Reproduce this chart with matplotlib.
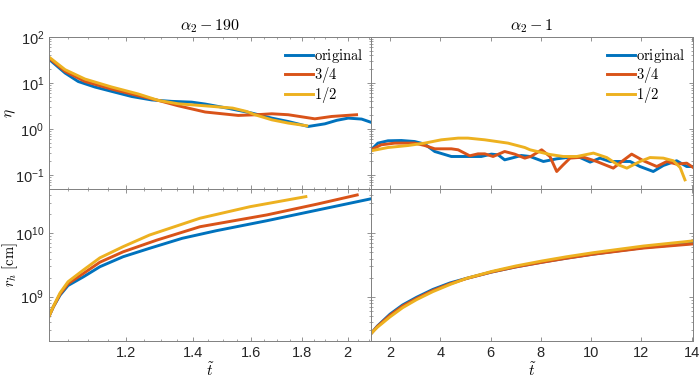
import numpy as np
import matplotlib.pyplot as plt
from matplotlib.ticker import FixedLocator, FixedFormatter, NullFormatter

plt.rcParams['font.family'] = ['Liberation Sans', 'DejaVu Sans']
plt.rcParams['mathtext.fontset'] = 'cm'

# line colours (MATLAB default order)
c_orig = '#0072BD'
c_34 = '#D95319'
c_12 = '#EDB120'

labels = [r'$\mathrm{original}$', r'$3/4$', r'$1/2$']

# ---- alpha_2 - 190 : eta ----
t_eta190_orig = [1.005, 1.043, 1.075, 1.117, 1.161, 1.216, 1.273, 1.333, 1.396, 1.44, 1.514,
                 1.603, 1.679, 1.744, 1.826, 1.897, 1.95, 2.002, 2.065, 2.113]
eta190_orig = [33, 16.5, 10.8, 8.2, 6.6, 5.1, 4.3, 4.0, 3.85, 3.5, 2.86,
               2.23, 1.73, 1.46, 1.14, 1.30, 1.55, 1.73, 1.65, 1.39]
t_eta190_34 = [1.005, 1.043, 1.092, 1.161, 1.235, 1.293, 1.353, 1.44, 1.554, 1.62,
               1.679, 1.744, 1.854, 1.927, 2.041]
eta190_34 = [35, 17.9, 10.8, 7.4, 5.3, 4.19, 3.21, 2.35, 1.98, 2.05,
             2.15, 2.05, 1.67, 1.88, 2.05]
t_eta190_12 = [1.005, 1.043, 1.092, 1.161, 1.235, 1.293, 1.353, 1.44, 1.534, 1.585,
               1.615, 1.679, 1.744, 1.820]
eta190_12 = [36.7, 19.5, 12.2, 8.2, 5.77, 4.19, 3.55, 3.2, 2.86, 2.41,
             2.05, 1.59, 1.35, 1.18]

# ---- alpha_2 - 190 : r_h ----
t_r190_orig = [1.005, 1.015, 1.031, 1.05, 1.088, 1.130, 1.192, 1.267, 1.366, 1.478, 1.66, 1.866, 2.113]
r190_orig = [4.9e8, 6.9e8, 1.06e9, 1.5e9, 2.06e9, 2.97e9, 4.27e9, 5.8e9, 8.34e9, 1.1e10, 1.58e10, 2.33e10, 3.52e10]
t_r190_34 = [1.005, 1.015, 1.031, 1.05, 1.088, 1.130, 1.192, 1.288, 1.423, 1.66, 1.866, 2.044]
r190_34 = [4.9e8, 6.9e8, 1.1e9, 1.6e9, 2.33e9, 3.5e9, 5.1e9, 7.8e9, 1.27e10, 1.95e10, 2.9e10, 4.03e10]
t_r190_12 = [1.005, 1.015, 1.031, 1.05, 1.088, 1.130, 1.192, 1.267, 1.423, 1.597, 1.816]
r190_12 = [4.9e8, 7.0e8, 1.15e9, 1.72e9, 2.64e9, 4.1e9, 6.15e9, 9.4e9, 1.73e10, 2.63e10, 3.79e10]

# ---- alpha_2 - 1 : eta ----
t_eta1_orig = [1.25, 1.52, 1.92, 2.45, 2.98, 3.38, 3.78, 4.44, 5.10, 5.63, 6.03, 6.30, 6.56,
               6.83, 7.22, 7.57, 8.10, 8.63, 9.16, 9.56, 9.96, 10.35, 10.75, 11.15, 11.55,
               11.94, 12.47, 12.87, 13.40, 13.80, 14.06]
eta1_orig = [0.355, 0.496, 0.557, 0.565, 0.537, 0.472, 0.326, 0.254, 0.254, 0.254, 0.286,
             0.276, 0.215, 0.234, 0.267, 0.254, 0.198, 0.226, 0.246, 0.241, 0.192, 0.234,
             0.198, 0.198, 0.198, 0.154, 0.120, 0.162, 0.205, 0.154, 0.154]
t_eta1_34 = [1.25, 1.65, 2.19, 2.98, 3.38, 3.78, 4.44, 4.71, 5.17, 5.50, 5.77, 6.10, 6.56,
             6.96, 7.36, 7.62, 8.03, 8.36, 8.63, 8.89, 9.16, 9.69, 10.22, 10.88, 11.22,
             11.61, 12.08, 12.61, 13.01, 13.40, 13.80, 14.06]
eta1_34 = [0.355, 0.456, 0.496, 0.496, 0.440, 0.373, 0.373, 0.355, 0.263, 0.290, 0.290,
           0.254, 0.326, 0.286, 0.234, 0.258, 0.355, 0.254, 0.120, 0.168, 0.234, 0.246,
           0.198, 0.142, 0.198, 0.286, 0.205, 0.154, 0.198, 0.173, 0.182, 0.146]
t_eta1_12 = [1.25, 1.92, 2.72, 3.38, 4.04, 4.71, 5.10, 5.77, 6.69, 7.36, 7.57, 8.36, 8.89,
             9.43, 10.09, 10.62, 11.02, 11.42, 11.94, 12.34, 12.87, 13.27, 13.54, 13.73]
eta1_12 = [0.338, 0.398, 0.440, 0.496, 0.585, 0.637, 0.637, 0.585, 0.496, 0.398, 0.355,
           0.281, 0.254, 0.254, 0.301, 0.241, 0.173, 0.142, 0.198, 0.241, 0.234, 0.205,
           0.146, 0.079]

# ---- alpha_2 - 1 : r_h ----
t_r1 = [1.25, 1.5, 2.0, 2.5, 3.06, 3.7, 4.39, 5.05, 6.04, 7.0, 8.03, 9.0, 10.09, 12.08, 14.06]
r1_orig = [2.63e8, 3.45e8, 5.3e8, 7.4e8, 9.8e8, 1.3e9, 1.65e9, 1.95e9, 2.45e9, 2.95e9, 3.5e9, 4.05e9, 4.7e9, 5.95e9, 7.0e9]
r1_34 = [2.63e8, 3.4e8, 5.1e8, 7.1e8, 9.4e8, 1.25e9, 1.6e9, 1.94e9, 2.45e9, 2.95e9, 3.48e9, 4.03e9, 4.68e9, 5.85e9, 6.8e9]
r1_12 = [2.63e8, 3.3e8, 4.8e8, 6.7e8, 9.0e8, 1.2e9, 1.56e9, 1.95e9, 2.5e9, 3.05e9, 3.65e9, 4.25e9, 4.95e9, 6.3e9, 7.6e9]

fig = plt.figure(figsize=(7, 3.79), dpi=100)
W, H = 700, 379
def place(x0, y0, x1, y1):
    return fig.add_axes([x0 / W, 1 - y1 / H, (x1 - x0) / W, (y1 - y0) / H])

ax_tl = place(49, 37, 371, 189)
ax_tr = place(371, 37, 693, 189)
ax_bl = place(49, 189, 371, 341)
ax_br = place(371, 189, 693, 341)

lw = 2.1
ax_tl.plot(t_eta190_orig, eta190_orig, color=c_orig, lw=lw, label=labels[0])
ax_tl.plot(t_eta190_34, eta190_34, color=c_34, lw=lw, label=labels[1])
ax_tl.plot(t_eta190_12, eta190_12, color=c_12, lw=lw, label=labels[2])

ax_bl.plot(t_r190_orig, r190_orig, color=c_orig, lw=lw)
ax_bl.plot(t_r190_34, r190_34, color=c_34, lw=lw)
ax_bl.plot(t_r190_12, r190_12, color=c_12, lw=lw)

ax_tr.plot(t_eta1_orig, eta1_orig, color=c_orig, lw=lw, label=labels[0])
ax_tr.plot(t_eta1_34, eta1_34, color=c_34, lw=lw, label=labels[1])
ax_tr.plot(t_eta1_12, eta1_12, color=c_12, lw=lw, label=labels[2])

ax_br.plot(t_r1, r1_orig, color=c_orig, lw=lw)
ax_br.plot(t_r1, r1_34, color=c_34, lw=lw)
ax_br.plot(t_r1, r1_12, color=c_12, lw=lw)

for ax in (ax_tl, ax_bl):
    ax.set_xscale('log')
    ax.set_xlim(1.005, 2.11)
    ax.xaxis.set_major_locator(FixedLocator([1.2, 1.4, 1.6, 1.8, 2.0]))
    ax.xaxis.set_major_formatter(FixedFormatter(['1.2', '1.4', '1.6', '1.8', '2']))
    ax.xaxis.set_minor_locator(FixedLocator(np.arange(1.05, 2.11, 0.05)))
    ax.xaxis.set_minor_formatter(NullFormatter())

for ax in (ax_tr, ax_br):
    ax.set_xlim(1.244, 14.05)
    ax.set_xticks([2, 4, 6, 8, 10, 12, 14])

for ax in (ax_tl, ax_tr):
    ax.set_yscale('log')
    ax.set_ylim(0.05, 100)
for ax in (ax_bl, ax_br):
    ax.set_yscale('log')
    ax.set_ylim(2e8, 5e10)

for ax in (ax_tl, ax_tr, ax_bl, ax_br):
    ax.yaxis.set_minor_formatter(NullFormatter())
    ax.tick_params(which='both', direction='in', top=True, right=True,
                   colors='#808080', labelcolor='#262626', labelsize=10.5)
    ax.tick_params(which='major', length=3, width=0.6)
    ax.tick_params(which='minor', length=1.6, width=0.5)
    for s in ax.spines.values():
        s.set_color('#808080')
        s.set_linewidth(0.7)

ax_tl.tick_params(labelbottom=False)
ax_tr.tick_params(labelbottom=False, labelleft=False)
ax_br.tick_params(labelleft=False)

ax_tl.set_title(r'$\alpha_2 - \mathit{190}$', fontsize=11.5, pad=5)
ax_tr.set_title(r'$\alpha_2 - \mathit{1}$', fontsize=11.5, pad=5)
ax_tl.set_ylabel(r'$\eta$', fontsize=11)
ax_bl.set_ylabel(r'$r_h\ [\mathrm{cm}]$', fontsize=10.5)
ax_tl.yaxis.set_label_coords(-0.095, 0.5)
ax_bl.yaxis.set_label_coords(-0.09, 0.5)
ax_bl.set_xlabel(r'$\tilde{t}$', fontsize=11, labelpad=1)
ax_br.set_xlabel(r'$\tilde{t}$', fontsize=11, labelpad=1)

for ax in (ax_tl, ax_tr):
    ax.legend(loc='upper right', bbox_to_anchor=(1.0, 0.98), frameon=False,
              fontsize=10.5, handlelength=1.9, handletextpad=0.1, labelspacing=0.0,
              borderaxespad=0.3, borderpad=0.2)

fig.savefig('out.png', dpi=100)
